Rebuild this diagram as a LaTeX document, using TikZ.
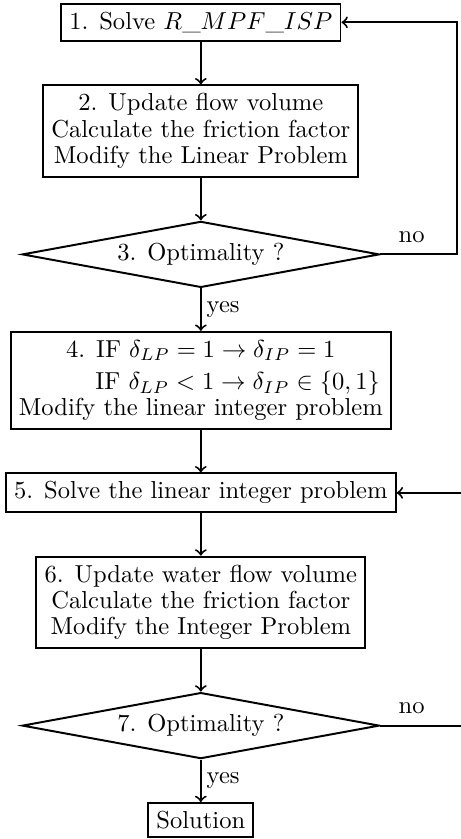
\documentclass[tikz,border=0pt]{standalone}
\usetikzlibrary{positioning,shapes.geometric}

\begin{document}
\begin{tikzpicture}[node distance=17.3pt, thick,
    every node/.style={font=\fontsize{10}{10.75}\selectfont},
    block/.style={draw, rectangle, align=center},
    decision/.style={draw, diamond, aspect=5.2, inner sep=0pt, minimum width=145.5pt, minimum height=26.9pt},
    lbl/.style={inner sep=2pt}]
    \node[block, minimum height=15.2pt] (solve) {1. Solve $R\_MPF\_ISP$};
    \node[block, below=of solve] (update) {2. Update flow volume\\Calculate the friction factor\\Modify the Linear Problem};
    \node[decision, below=of update] (opt) {3. Optimality ?};
    \node[block, below=of opt] (round) {4. IF $\delta_{LP}=1\rightarrow\delta_{IP}=1$\\[2.4pt]\hspace*{30pt}IF $\delta_{LP}<1\rightarrow\delta_{IP}\in\{0,1\}$\\Modify the linear integer problem};
    \node[block, below=of round] (solveint) {5. Solve the linear integer problem};
    \node[block, below=of solveint] (updateint) {6. Update water flow volume\\Calculate the friction factor\\Modify the Integer Problem};
    \node[decision, below=of updateint] (optint) {7. Optimality ?};
    \node[block, below=of optint] (sol) {Solution};

    % page frame, the second loop runs off the right edge
    \useasboundingbox ([shift={(-81.8pt,1.1pt)}]solve.north) rectangle ([shift={(105.7pt,-0.3pt)}]sol.south);

    \coordinate (back) at ([xshift=104.4pt]opt.center);
    \coordinate (backint) at ([xshift=115pt]optint.center);

    \draw[->] (solve) -- (update);
    \draw[->] (update) -- (opt);
    \draw[->] (opt) -- node[lbl, right]{yes} (round);
    \draw[->] (opt.east) -- node[lbl, pos=0, above right, xshift=5pt, yshift=2.4pt]{no} (back) |- (solve.east);
    \draw[->] (round) -- (solveint);
    \draw[->] (solveint) -- (updateint);
    \draw[->] (updateint) -- (optint);
    \draw[->] (optint) -- node[lbl, right]{yes} (sol);
    \draw[->] (optint.east) -- node[lbl, pos=0, above right, xshift=5pt, yshift=2.4pt]{no} (backint) |- (solveint.east);
\end{tikzpicture}
\end{document}
